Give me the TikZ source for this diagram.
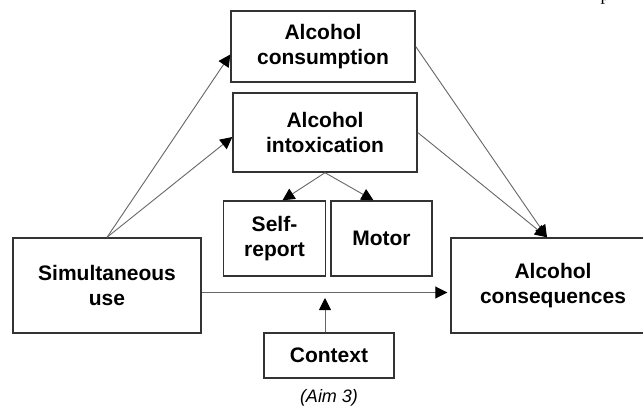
\documentclass[tikz,border=0pt]{standalone}
\usepackage{fontspec}
\setmainfont{Liberation Sans}
\newfontfamily\serifp{Liberation Serif}
\usetikzlibrary{arrows.meta,calc}
\tikzset{
  box/.style={draw=black!80, line width=1.4pt, rectangle, align=center,
    font=\fontsize{21}{25}\selectfont\bfseries, inner sep=0pt},
  conn/.style={draw=black!60, line width=0.9pt,
    -{Triangle[length=12pt,width=12pt,color=black]}},
}
\begin{document}
\begin{tikzpicture}[x=1pt,y=-1pt]
\useasboundingbox[fill=white] (0,0) rectangle (643,410);
\node[box, minimum width=184pt, minimum height=71pt] (cons) at (323,46.5) {Alcohol\\consumption};
\node[box, minimum width=184pt, minimum height=79pt] (intox) at (325,132.5) {Alcohol\\intoxication};
\node[box, minimum width=102pt, minimum height=75pt] (self) at (274.5,238.5) {Self-\\report};
\node[box, minimum width=101pt, minimum height=75pt] (motor) at (381.5,238.5) {Motor};
\node[box, minimum width=188pt, minimum height=95pt] (sim) at (107,285.5) {Simultaneous\\use};
\node[box, minimum width=204pt, minimum height=95pt] (conseq) at (553,285.5) {Alcohol\\consequences};
\node[box, minimum width=130pt, minimum height=45pt] (ctx) at (329,355.5) {Context};
\node[font=\fontsize{18}{20}\selectfont\itshape] (aim) at (329,398) {(Aim 3)};
\node[font=\fontsize{18}{20}\selectfont\serifp, anchor=base, inner sep=0pt] (pp) at (605,0.5) {p};
\coordinate (mid) at (325,298);
\draw[conn] (sim.north) -- ($(cons.west)+(0,8)$);
\draw[conn] (sim.north) -- ($(intox.west)+(0,4.5)$);
\draw[conn] (cons.east) -- ($(conseq.north)+(-6,0)$);
\draw[conn] (intox.east) -- ($(conseq.north)+(-6,0)$);
\draw[conn] (intox.south) -- ($(self.north)+(8,0)$);
\draw[conn] (intox.south) -- ($(motor.north)+(-8,0)$);
\draw[conn] ($(sim.east)+(0,7)$) -- ($(conseq.west)+(-3,7)$);
\draw[conn] ($(ctx.north)+(-4,0)$) -- (mid);
\end{tikzpicture}
\end{document}
